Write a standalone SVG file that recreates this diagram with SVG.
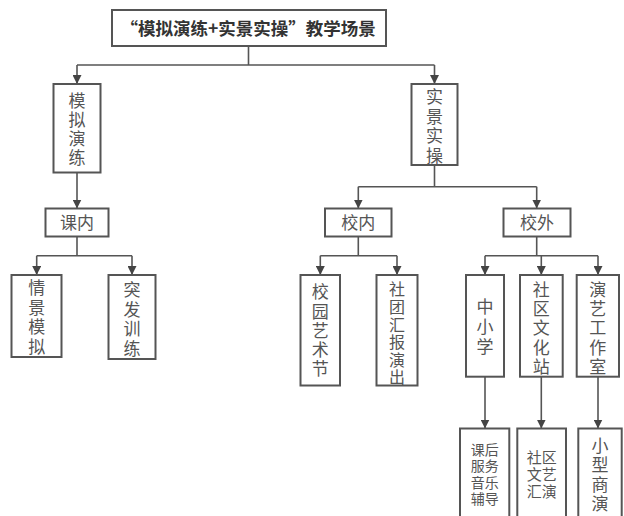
<svg xmlns="http://www.w3.org/2000/svg" width="624" height="516" viewBox="0 0 624 516">
<style>
.box{fill:#fff;stroke:#555;stroke-width:2}
.ln{fill:none;stroke:#555;stroke-width:1.6}
.t{font-family:"Noto Sans CJK SC","Noto Sans",sans-serif;fill:#555;text-anchor:middle}
.f17{font-size:17px}
.f16{font-size:16px}
.f15{font-size:15px}
.f14{font-size:14px}
.title{font-family:"Noto Sans CJK SC","Noto Sans",sans-serif;font-size:17.5px;font-weight:bold;fill:#333}
</style>
<defs>
<marker id="ah" markerUnits="userSpaceOnUse" markerWidth="9" markerHeight="9" refX="9" refY="4.5" orient="auto">
<path d="M0,0 L9,4.5 L0,9 z" fill="#444"/>
</marker>
</defs>
<rect width="624" height="516" fill="#fff"/>
<g id="connectors">
<path class="ln" d="M248.5 46 V65 M77 65 H434.5"/>
<path class="ln" d="M77 65 V84" marker-end="url(#ah)"/>
<path class="ln" d="M434.5 65 V84" marker-end="url(#ah)"/>
<path class="ln" d="M77 172.5 V208.5" marker-end="url(#ah)"/>
<path class="ln" d="M434.5 165 V186.7 M358.3 186.7 H536.7"/>
<path class="ln" d="M358.3 186.7 V208.5" marker-end="url(#ah)"/>
<path class="ln" d="M536.7 186.7 V208.5" marker-end="url(#ah)"/>
<path class="ln" d="M77 236.5 V255.7 M36.7 255.7 H132"/>
<path class="ln" d="M36.7 255.7 V275" marker-end="url(#ah)"/>
<path class="ln" d="M132 255.7 V275" marker-end="url(#ah)"/>
<path class="ln" d="M358.3 236.5 V255.7 M320.3 255.7 H397"/>
<path class="ln" d="M320.3 255.7 V275" marker-end="url(#ah)"/>
<path class="ln" d="M397 255.7 V275" marker-end="url(#ah)"/>
<path class="ln" d="M536.7 236.5 V255.7 M485 255.7 H598"/>
<path class="ln" d="M485 255.7 V275" marker-end="url(#ah)"/>
<path class="ln" d="M541.3 255.7 V275" marker-end="url(#ah)"/>
<path class="ln" d="M598 255.7 V275" marker-end="url(#ah)"/>
<path class="ln" d="M485 376.7 V428.5" marker-end="url(#ah)"/>
<path class="ln" d="M541.3 376.7 V428.5" marker-end="url(#ah)"/>
<path class="ln" d="M598 376.7 V428.5" marker-end="url(#ah)"/>
</g>
<g id="root">
<rect class="box" x="112" y="10" width="274" height="36"/>
<text class="title" x="120.5" y="34.7">“模拟演练+实景实操”教学场景</text>
</g>
<g id="mnyl">
<rect class="box" x="53.5" y="84" width="47" height="88.5"/>
<text class="t f17"><tspan x="77" y="106.5">模</tspan><tspan x="77" y="125.8">拟</tspan><tspan x="77" y="145.1">演</tspan><tspan x="77" y="164.4">练</tspan></text>
</g>
<g id="sjsc">
<rect class="box" x="411.5" y="84" width="46" height="81"/>
<text class="t f17"><tspan x="434.5" y="103">实</tspan><tspan x="434.5" y="122.6">景</tspan><tspan x="434.5" y="142.2">实</tspan><tspan x="434.5" y="161.8">操</tspan></text>
</g>
<g id="kenei">
<rect class="box" x="45.5" y="208.5" width="63" height="28"/>
<text class="t f17" x="77" y="229">课内</text>
</g>
<g id="xiaonei">
<rect class="box" x="325" y="208.5" width="66.5" height="28"/>
<text class="t f17" x="358.3" y="229">校内</text>
</g>
<g id="xiaowai">
<rect class="box" x="503.5" y="208.5" width="67" height="28"/>
<text class="t f17" x="537" y="229">校外</text>
</g>
<g id="qjmn">
<rect class="box" x="11.5" y="275" width="50" height="82"/>
<text class="t f17"><tspan x="36.7" y="294">情</tspan><tspan x="36.7" y="313.7">景</tspan><tspan x="36.7" y="333.4">模</tspan><tspan x="36.7" y="353.1">拟</tspan></text>
</g>
<g id="tfxl">
<rect class="box" x="108.5" y="275" width="47" height="84"/>
<text class="t f17"><tspan x="132" y="296">突</tspan><tspan x="132" y="315.5">发</tspan><tspan x="132" y="335">训</tspan><tspan x="132" y="354.5">练</tspan></text>
</g>
<g id="xyysj">
<rect class="box" x="300.5" y="275" width="39.5" height="110.5"/>
<text class="t f17"><tspan x="320.3" y="298.2">校</tspan><tspan x="320.3" y="317.5">园</tspan><tspan x="320.3" y="336.8">艺</tspan><tspan x="320.3" y="356.1">术</tspan><tspan x="320.3" y="375.4">节</tspan></text>
</g>
<g id="sthbyc">
<rect class="box" x="376.5" y="275" width="41" height="110.5"/>
<text class="t f16"><tspan x="397" y="295.4">社</tspan><tspan x="397" y="313">团</tspan><tspan x="397" y="330.6">汇</tspan><tspan x="397" y="348.2">报</tspan><tspan x="397" y="365.8">演</tspan><tspan x="397" y="383.4">出</tspan></text>
</g>
<g id="zxx">
<rect class="box" x="466" y="275" width="38" height="101.7"/>
<text class="t f17"><tspan x="485" y="312.5">中</tspan><tspan x="485" y="332.8">小</tspan><tspan x="485" y="353.1">学</tspan></text>
</g>
<g id="sqwhz">
<rect class="box" x="520" y="275" width="42.7" height="101.7"/>
<text class="t f17"><tspan x="541.3" y="295.8">社</tspan><tspan x="541.3" y="315.1">区</tspan><tspan x="541.3" y="334.4">文</tspan><tspan x="541.3" y="353.7">化</tspan><tspan x="541.3" y="373">站</tspan></text>
</g>
<g id="ygzs">
<rect class="box" x="576.7" y="275" width="42.3" height="101.7"/>
<text class="t f17"><tspan x="597.8" y="295.8">演</tspan><tspan x="597.8" y="315.1">艺</tspan><tspan x="597.8" y="334.4">工</tspan><tspan x="597.8" y="353.7">作</tspan><tspan x="597.8" y="373">室</tspan></text>
</g>
<g id="khfw">
<rect class="box" x="460" y="428.5" width="49.3" height="100"/>
<text class="t f14"><tspan x="484.7" y="454.6">课后</tspan><tspan x="484.7" y="471.1">服务</tspan><tspan x="484.7" y="487.6">音乐</tspan><tspan x="484.7" y="504.1">辅导</tspan></text>
</g>
<g id="sqwy">
<rect class="box" x="517.3" y="428.5" width="48.7" height="100"/>
<text class="t f15"><tspan x="541.7" y="463">社区</tspan><tspan x="541.7" y="480.2">文艺</tspan><tspan x="541.7" y="497.4">汇演</tspan></text>
</g>
<g id="xxsy">
<rect class="box" x="578.3" y="428.5" width="43.4" height="100"/>
<text class="t f17"><tspan x="600" y="451.5">小</tspan><tspan x="600" y="471">型</tspan><tspan x="600" y="490.5">商</tspan><tspan x="600" y="510">演</tspan></text>
</g>
</svg>
